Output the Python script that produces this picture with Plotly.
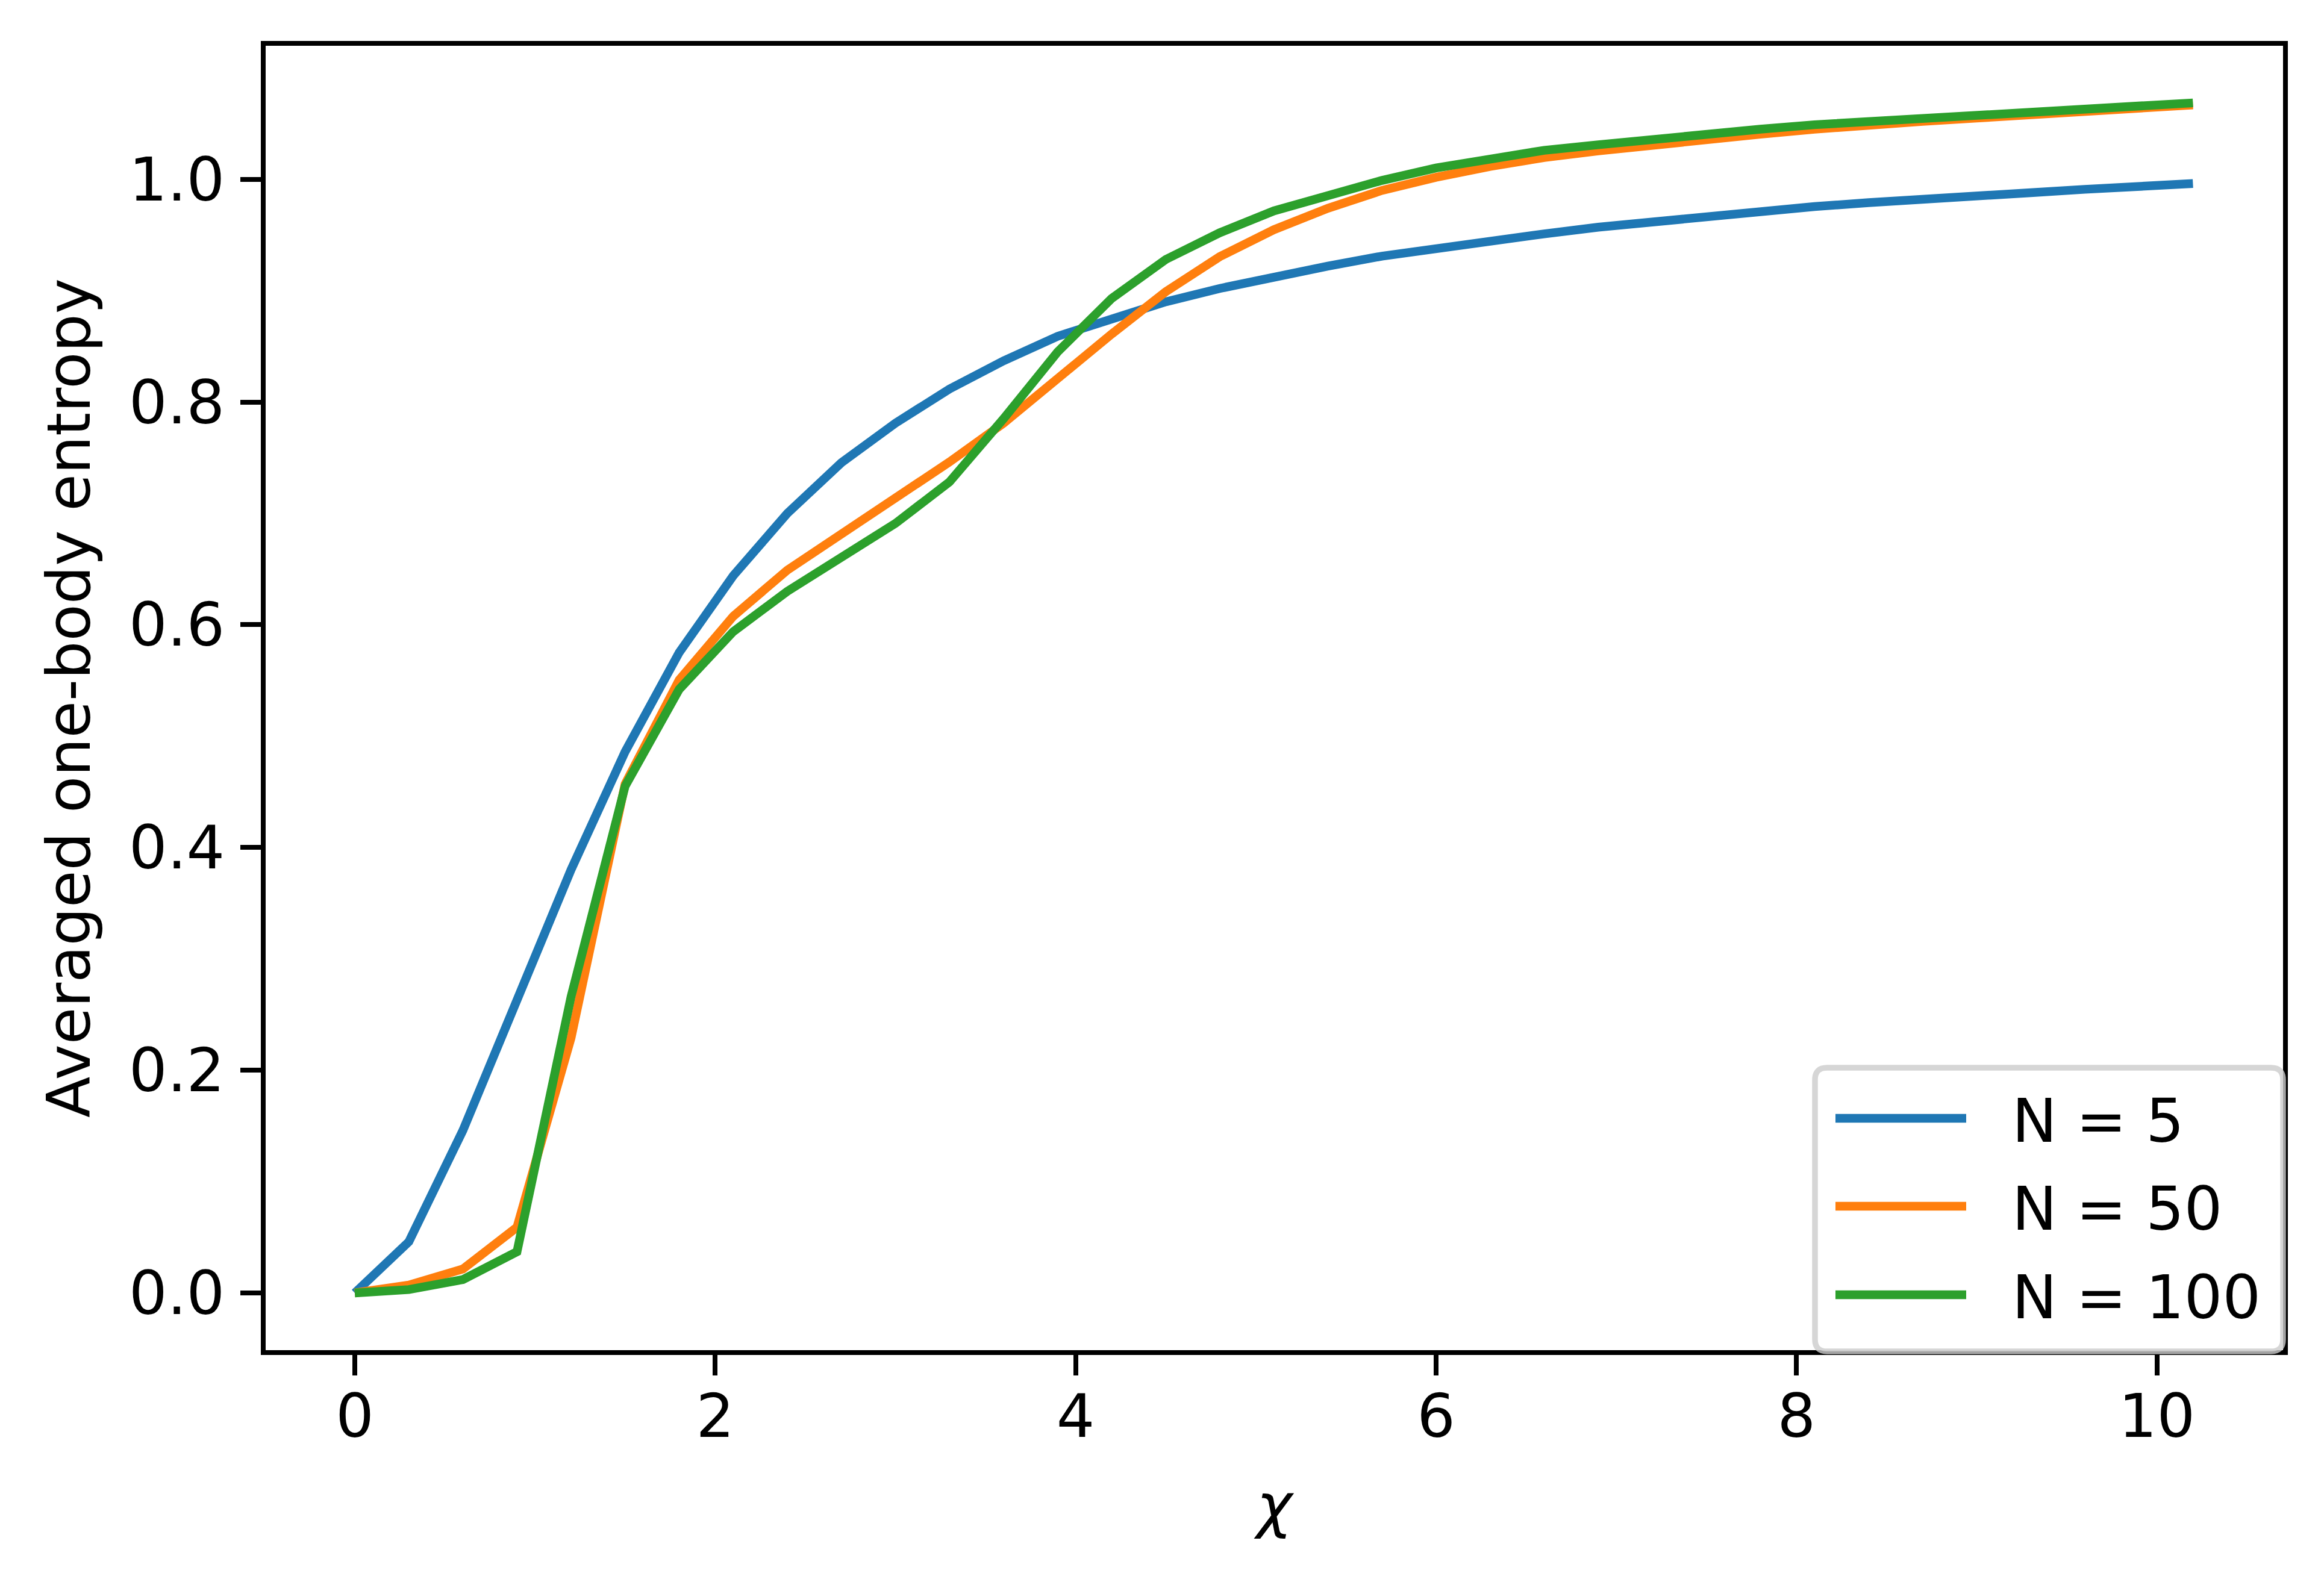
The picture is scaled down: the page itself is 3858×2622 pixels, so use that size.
import plotly.graph_objects as go

# ---------------- data ----------------
chi = [0.0, 0.3, 0.6, 0.9, 1.2, 1.5, 1.8, 2.1, 2.4, 2.7, 3.0, 3.3, 3.6, 3.9, 4.2,
       4.5, 4.8, 5.1, 5.4, 5.7, 6.0, 6.3, 6.6, 6.9, 7.2, 7.5, 7.8, 8.1, 8.4, 8.7,
       9.0, 9.3, 9.6, 9.9, 10.2]

entropy_n5 = [0.0, 0.046, 0.146, 0.263, 0.380, 0.486, 0.575, 0.644, 0.700, 0.7455,
              0.781, 0.8117, 0.837, 0.859, 0.8755, 0.890, 0.902, 0.913, 0.922, 0.931,
              0.938, 0.945, 0.951, 0.957, 0.962, 0.9665, 0.971, 0.9755, 0.979, 0.9825,
              0.9855, 0.988, 0.991, 0.9935, 0.9962]

entropy_n50 = [0.0, 0.007, 0.0215, 0.059, 0.229, 0.457, 0.5505, 0.6076, 0.649, 0.6817,
               0.7128, 0.7462, 0.781, 0.8213, 0.861, 0.899, 0.9306, 0.9547, 0.974, 0.990,
               1.0018, 1.0115, 1.0195, 1.0255, 1.031, 1.036, 1.0405, 1.045, 1.049, 1.052,
               1.055, 1.058, 1.061, 1.064, 1.0668]

entropy_n100 = [0.0, 0.003, 0.012, 0.037, 0.266, 0.455, 0.542, 0.5938, 0.630, 0.660,
                0.691, 0.7283, 0.785, 0.845, 0.893, 0.928, 0.952, 0.9716, 0.986, 0.999,
                1.0102, 1.019, 1.026, 1.031, 1.036, 1.041, 1.045, 1.049, 1.052, 1.055,
                1.058, 1.0605, 1.063, 1.066, 1.0686]

series_names = ["N = 5", "N = 50", "N = 100"]
series_colors = ["#1f77b4", "#ff7f0e", "#2ca02c"]

x_ticks = [0, 2, 4, 6, 8, 10]
x_tick_labels = ["0", "2", "4", "6", "8", "10"]
y_ticks = [0.0, 0.2, 0.4, 0.6, 0.8, 1.0]
y_tick_labels = ["0.0", "0.2", "0.4", "0.6", "0.8", "1.0"]

# ---------------- layout geometry (pixels) ----------------
W, H = 3858, 2622
PL, PR, PT, PB = 441, 3790, 76, 2242   # plot area edges (axis lines drawn just outside)
FONT = "DejaVu Sans, Liberation Sans, sans-serif"
FS = 100
LW = 14.5
AXW = 7.8


def px_x(p):
    return (p - PL) / (PR - PL)


def px_y(p):
    return (PB - p) / (PB - PT)


fig = go.Figure()
for ys, name, col in zip([entropy_n5, entropy_n50, entropy_n100], series_names, series_colors):
    fig.add_trace(go.Scatter(x=chi, y=ys, mode="lines", name=name,
                             line=dict(color=col, width=LW), showlegend=False))

axis_common = dict(showgrid=False, zeroline=False, showline=True, linecolor="black",
                   linewidth=AXW, mirror=True, ticks="outside", ticklen=34,
                   tickwidth=AXW, tickcolor="black",
                   tickfont=dict(family=FONT, size=FS, color="black"))

fig.update_xaxes(range=[-0.4947, 10.700], tickvals=x_ticks, ticktext=x_tick_labels,
                 ticklabelstandoff=-18,
                 title=dict(text="<i>χ</i>", font=dict(family=FONT, size=FS, color="black"),
                            standoff=58),
                 **axis_common)
fig.update_yaxes(range=[-0.0514, 1.1199], tickvals=y_ticks, ticktext=y_tick_labels,
                 ticklabelstandoff=6,
                 title=dict(text="Averaged one-body entropy",
                            font=dict(family=FONT, size=FS, color="black"), standoff=34),
                 **axis_common)

# ---------------- legend (drawn manually to match long line samples) ----------------
bx0, by0, bx1, by1 = 3013, 1773, 3790, 2244
r = 20
rx, ry = r / (PR - PL), r / (PB - PT)
X0, X1 = px_x(bx0), px_x(bx1)
Y0, Y1 = px_y(by1), px_y(by0)   # bottom, top in paper
path = (f"M {X0+rx},{Y0} L {X1-rx},{Y0} Q {X1},{Y0} {X1},{Y0+ry} "
        f"L {X1},{Y1-ry} Q {X1},{Y1} {X1-rx},{Y1} "
        f"L {X0+rx},{Y1} Q {X0},{Y1} {X0},{Y1-ry} "
        f"L {X0},{Y0+ry} Q {X0},{Y0} {X0+rx},{Y0} Z")
shapes = [dict(type="path", path=path, xref="paper", yref="paper",
               fillcolor="rgba(255,255,255,0.8)",
               line=dict(color="rgba(204,204,204,0.8)", width=9.5), layer="above")]
annotations = []
row_y = [1857, 2003, 2150]
for name, col, ry_px in zip(series_names, series_colors, row_y):
    shapes.append(dict(type="line", xref="paper", yref="paper",
                       x0=px_x(3047), x1=px_x(3264), y0=px_y(ry_px), y1=px_y(ry_px),
                       line=dict(color=col, width=LW), layer="above"))
    annotations.append(dict(text=name, xref="paper", yref="paper", x=px_x(3338),
                            y=px_y(ry_px + 4), xanchor="left", yanchor="middle",
                            showarrow=False,
                            font=dict(family=FONT, size=FS, color="black")))

fig.update_layout(width=W, height=H, autosize=False,
                  margin=dict(l=PL, r=W - PR, t=PT, b=H - PB, pad=0),
                  plot_bgcolor="white", paper_bgcolor="white",
                  shapes=shapes, annotations=annotations, showlegend=False)

fig.write_html("out.html", config={"displayModeBar": False},
               post_script="document.body.style.margin='0';")
